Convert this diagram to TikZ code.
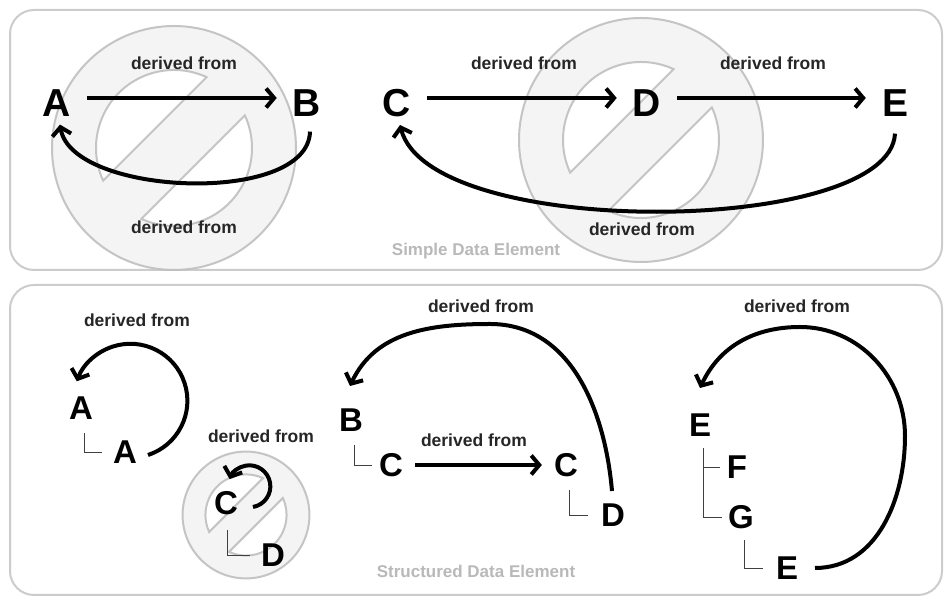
\documentclass[tikz,border=0pt]{standalone}
\usepackage{fontspec}
\setmainfont{Liberation Sans}
\usetikzlibrary{arrows.meta}
\begin{document}
\begin{tikzpicture}[x=1pt,y=1pt,
  panel/.style={draw=gray!40,line width=2pt,rounded corners=24pt,fill=white},
  big/.style={font=\fontsize{39}{41}\selectfont\bfseries,inner sep=0pt},
  mid/.style={font=\fontsize{33}{35}\selectfont\bfseries,inner sep=0pt},
  lab/.style={font=\fontsize{17.5}{19}\selectfont\bfseries,text=black!85,inner sep=0pt},
  paneltitle/.style={font=\fontsize{17}{19}\selectfont\bfseries,text=gray!55,inner sep=0pt},
  rel/.style={line width=4pt,-{Straight Barb[length=8pt,width=19pt]}},
  tree/.style={draw=black!75,line width=0.8pt},
  nosign/.style={fill=gray!15,fill opacity=0.55,draw=gray!50,draw opacity=0.9,line width=2pt,even odd rule}]
\useasboundingbox (0,0) rectangle (951,601);
\draw[panel] (10,591) rectangle (942,331);
\draw[panel] (10,316) rectangle (942,6);
\newcommand{\nosignat}[3]{%
  \begin{scope}[shift={(#1,#2)},scale=#3,rotate=45]
    \path[nosign] (0,0) circle (122)
      (20.25:78) arc (20.25:159.75:78) -- cycle
      (200.25:78) arc (200.25:339.75:78) -- cycle;
  \end{scope}}
\nosignat{174}{453}{1}
\nosignat{641}{461}{1}
\nosignat{246}{86}{0.52}
\node[paneltitle] (t1) at (476,350) {Simple Data Element};
\node[paneltitle] (t2) at (476,30) {Structured Data Element};
% top panel
\node[big] (A) at (57,498) {A};
\node[big] (B) at (307,498) {B};
\node[big] (C) at (397,498) {C};
\node[big] (D) at (647,498) {D};
\node[big] (E) at (895,498) {E};
\node[lab] (l1) at (184,538) {derived from};
\node[lab] (l2) at (184,374) {derived from};
\node[lab] (l3) at (524,538) {derived from};
\node[lab] (l4) at (773,538) {derived from};
\node[lab] (l5) at (642,372) {derived from};
\draw[rel] ([xshift=16pt,yshift=5pt]A.east) -- ([xshift=-16pt,yshift=5pt]B.west);
\draw[rel] ([xshift=16pt,yshift=5pt]C.east) -- ([xshift=-16pt,yshift=5pt]D.west);
\draw[rel] ([xshift=16pt,yshift=5pt]D.east) -- ([xshift=-16pt,yshift=5pt]E.west);
\draw[rel] ([xshift=3pt,yshift=-15pt]B.south) .. controls (308,395) and (72,405) .. ([xshift=3pt,yshift=-8pt]A.south);
\draw[rel] ([yshift=-17pt]E.south) .. controls (890,365) and (430,360) .. ([xshift=3pt,yshift=-8pt]C.south);
% bottom left
\node[mid] (A2) at (81,193) {A};
\node[mid] (A3) at (125,149) {A};
\node[lab] (l6) at (137,281) {derived from};
\draw[tree] (84,168) -- (84,149) -- (102,149);
\draw[rel] (148,146) arc (-72:160:57);
% bottom middle small
\node[mid] (C2) at (226,98) {C};
\node[mid] (D2) at (273,46) {D};
\node[lab] (l7) at (261,165) {derived from};
\draw[tree] (227,71) -- (227,46) -- (250,46);
\draw[rel] (253,94) arc (-80:160:21);
% bottom middle
\node[mid] (B2) at (351,181) {B};
\node[mid] (C3) at (391,136) {C};
\node[mid] (C4) at (566,136) {C};
\node[mid] (D3) at (613,86) {D};
\node[lab] (l8) at (474,161) {derived from};
\node[lab] (l9) at (481,295) {derived from};
\draw[tree] (354,156) -- (354,136) -- (372,136);
\draw[tree] (569,111) -- (569,86) -- (588,86);
\draw[rel] ([xshift=12pt]C3.east) -- ([xshift=-12pt]C4.west);
\draw[rel] (612,110) to[out=95,in=0] (490,277) to[out=180,in=65] (350,215);
% bottom right
\node[mid] (E2) at (700,176) {E};
\node[mid] (F2) at (737,134) {F};
\node[mid] (G2) at (741,84) {G};
\node[mid] (E3) at (787,33) {E};
\node[lab] (l10) at (797,295) {derived from};
\draw[tree] (703,153) -- (703,84) -- (722,84);
\draw[tree] (703,134) -- (720,134);
\draw[tree] (744,61) -- (744,33) -- (763,33);
\draw[rel] (815,33) to[out=0,in=-90] (905,165) to[out=90,in=0] (800,274) to[out=180,in=65] (700,213);
\end{tikzpicture}
\end{document}
